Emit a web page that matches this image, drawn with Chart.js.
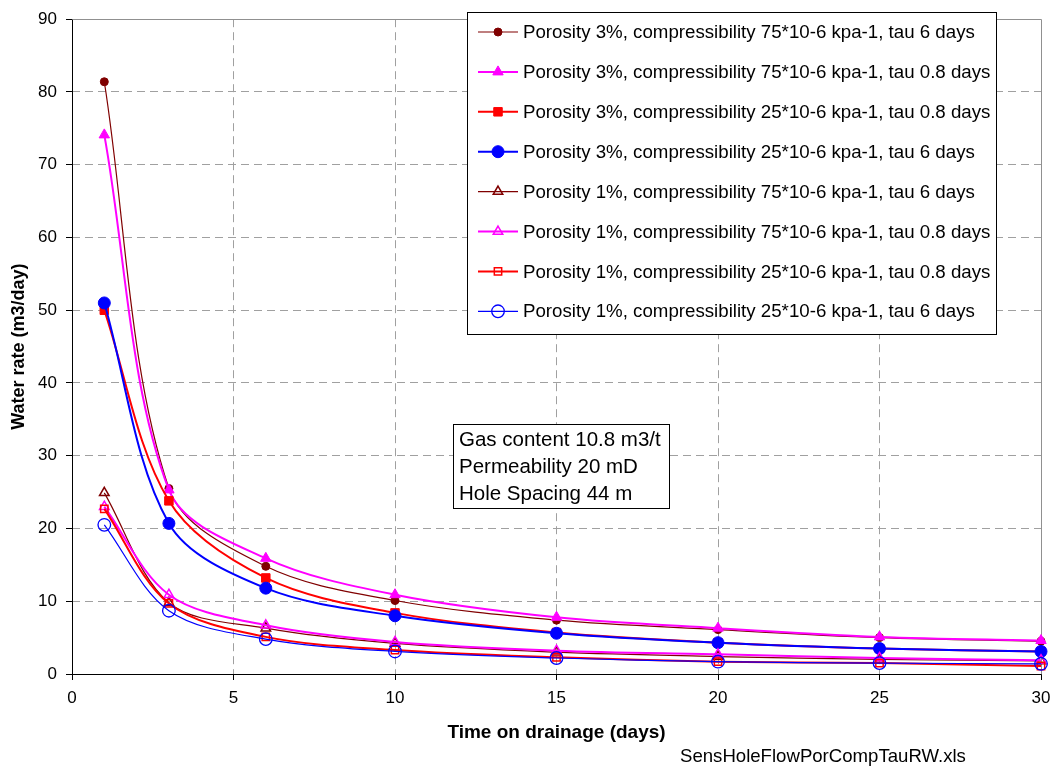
<!DOCTYPE html>
<html>
<head>
<meta charset="utf-8">
<script src="https://cdn.jsdelivr.net/npm/chart.js@4.4.1/dist/chart.umd.min.js"></script>
<style>
  html, body { margin: 0; padding: 0; background: #ffffff; }
  #wrap { width: 1056px; height: 766px; position: relative; }
</style>
</head>
<body>
<div id="wrap"><canvas id="c" width="1056" height="766"></canvas></div>
<script>
// Drainage times (days)
const days = [1, 3, 6, 10, 15, 20, 25, 30];

// Water rate (m3/day) for each porosity / compressibility / tau case
const por3Comp75Tau6  = [81.4, 25.5, 14.8, 10.1, 7.4, 6.1, 5.0, 4.5];
const por3Comp75Tau08 = [74.1, 25.3, 15.9, 10.9, 7.8, 6.3, 5.1, 4.6];
const por3Comp25Tau08 = [50.0, 23.8, 13.2, 8.4, 5.7, 4.3, 3.5, 3.1];
const por3Comp25Tau6  = [51.0, 20.7, 11.8, 8.0, 5.6, 4.3, 3.5, 3.1];
const por1Comp75Tau6  = [24.9, 9.8, 6.3, 4.2, 3.0, 2.4, 2.0, 1.8];
const por1Comp75Tau08 = [23.0, 10.9, 6.7, 4.4, 3.2, 2.7, 2.2, 1.9];
const por1Comp25Tau08 = [22.7, 9.7, 5.1, 3.3, 2.3, 1.7, 1.5, 1.1];
const por1Comp25Tau6  = [20.5, 8.7, 4.8, 3.1, 2.2, 1.7, 1.5, 1.4];

const seriesLabels = [
  'Porosity 3%, compressibility 75*10-6 kpa-1, tau 6 days',
  'Porosity 3%, compressibility 75*10-6 kpa-1, tau 0.8 days',
  'Porosity 3%, compressibility 25*10-6 kpa-1, tau 0.8 days',
  'Porosity 3%, compressibility 25*10-6 kpa-1, tau 6 days',
  'Porosity 1%, compressibility 75*10-6 kpa-1, tau 6 days',
  'Porosity 1%, compressibility 75*10-6 kpa-1, tau 0.8 days',
  'Porosity 1%, compressibility 25*10-6 kpa-1, tau 0.8 days',
  'Porosity 1%, compressibility 25*10-6 kpa-1, tau 6 days'
];

const noteLines = ['Gas content 10.8 m3/t', 'Permeability 20 mD', 'Hole Spacing 44 m'];
const sourceFile = 'SensHoleFlowPorCompTauRW.xls';
const xTitle = 'Time on drainage (days)';
const yTitle = 'Water rate (m3/day)';

const FONT = '"Liberation Sans", Arial, Helvetica, sans-serif';

// Visual style per series
const styles = [
  { color: '#800000', width: 1.2, shape: 'circle',   r: 4,   fill: true,  bw: 1 },
  { color: '#FF00FF', width: 2,   shape: 'triangle', r: 6,   fill: true,  bw: 1 },
  { color: '#FF0000', width: 2,   shape: 'rect',     r: 6,   fill: true,  bw: 1 },
  { color: '#0000FF', width: 2,   shape: 'circle',   r: 6,   fill: true,  bw: 1 },
  { color: '#800000', width: 1.2, shape: 'triangle', r: 5.5, fill: false, bw: 1.5 },
  { color: '#FF00FF', width: 2,   shape: 'triangle', r: 5.5, fill: false, bw: 1.5 },
  { color: '#FF0000', width: 2,   shape: 'rect',     r: 5.2, fill: false, bw: 1.5 },
  { color: '#0000FF', width: 1.2, shape: 'circle',   r: 6.3, fill: false, bw: 1.3 }
];

const seriesValues = [por3Comp75Tau6, por3Comp75Tau08, por3Comp25Tau08, por3Comp25Tau6,
                      por1Comp75Tau6, por1Comp75Tau08, por1Comp25Tau08, por1Comp25Tau6];

const datasets = seriesValues.map((vals, i) => {
  const s = styles[i];
  return {
    label: seriesLabels[i],
    data: days.map((d, k) => ({ x: d, y: vals[k] })),
    showLine: true,
    borderColor: s.color,
    borderWidth: s.width,
    backgroundColor: s.color,
    pointStyle: s.shape,
    pointRadius: s.r,
    pointHoverRadius: s.r,
    pointBackgroundColor: s.fill ? s.color : 'rgba(0,0,0,0)',
    pointBorderColor: s.color,
    pointBorderWidth: s.bw,
    tension: 0.33,
    clip: false,
    order: seriesValues.length - 1 - i
  };
});

const gridGray = '#a0a0a0';

// Solid frame: black axes at left/bottom, gray border at top/right
const framePlugin = {
  id: 'frame',
  beforeDatasetsDraw(chart) {
    const { ctx, chartArea: a } = chart;
    ctx.save();
    ctx.lineWidth = 1;
    ctx.strokeStyle = '#909090';
    ctx.beginPath();
    ctx.moveTo(Math.round(a.left) + 0.5, Math.round(a.top) + 0.5);
    ctx.lineTo(Math.round(a.right) + 0.5, Math.round(a.top) + 0.5);
    ctx.lineTo(Math.round(a.right) + 0.5, Math.round(a.bottom) + 0.5);
    ctx.stroke();
    ctx.strokeStyle = '#000000';
    ctx.beginPath();
    ctx.moveTo(Math.round(a.left) + 0.5, Math.round(a.top) + 0.5);
    ctx.lineTo(Math.round(a.left) + 0.5, Math.round(a.bottom) + 0.5);
    ctx.lineTo(Math.round(a.right) + 0.5, Math.round(a.bottom) + 0.5);
    ctx.stroke();
    ctx.restore();
  }
};

function drawMarker(ctx, s, x, y) {
  const opts = {
    pointStyle: s.shape, radius: s.r, rotation: 0, borderWidth: s.bw
  };
  ctx.save();
  ctx.fillStyle = s.fill ? s.color : 'rgba(0,0,0,0)';
  ctx.strokeStyle = s.color;
  ctx.lineWidth = s.bw;
  Chart.helpers.drawPoint(ctx, opts, x, y);
  ctx.restore();
}

// Boxed legend and notes drawn on top of the plot
const overlayPlugin = {
  id: 'overlay',
  afterDraw(chart) {
    const ctx = chart.ctx;
    ctx.save();
    // legend box
    const lx = 467.5, ly = 12.5, lw = 529, lh = 322;
    ctx.fillStyle = '#ffffff';
    ctx.fillRect(lx, ly, lw, lh);
    ctx.strokeStyle = '#000000';
    ctx.lineWidth = 1;
    ctx.strokeRect(lx, ly, lw, lh);
    ctx.font = '18.7px ' + FONT;
    ctx.textBaseline = 'middle';
    ctx.textAlign = 'left';
    chart.data.datasets.forEach((ds, i) => {
      const s = styles[i];
      const y = 32 + i * 39.9;
      ctx.strokeStyle = s.color;
      ctx.lineWidth = s.width;
      ctx.beginPath();
      ctx.moveTo(478, y);
      ctx.lineTo(518, y);
      ctx.stroke();
      drawMarker(ctx, s, 498, y);
      ctx.fillStyle = '#000000';
      ctx.fillText(ds.label, 523, y + 1);
    });

    // notes box
    ctx.fillStyle = '#ffffff';
    ctx.fillRect(453.5, 424.5, 216, 84);
    ctx.strokeStyle = '#000000';
    ctx.lineWidth = 1;
    ctx.strokeRect(453.5, 424.5, 216, 84);
    ctx.fillStyle = '#000000';
    ctx.font = '20.5px ' + FONT;
    noteLines.forEach((t, i) => ctx.fillText(t, 459, 440 + i * 27));

    // source file name
    ctx.font = '18.6px ' + FONT;
    ctx.fillText(sourceFile, 680, 757);
    ctx.restore();
  }
};

new Chart(document.getElementById('c'), {
  type: 'scatter',
  data: { datasets },
  options: {
    responsive: false,
    animation: false,
    events: [],
    layout: { padding: { top: 13, right: 15, left: 0, bottom: 0 } },
    plugins: {
      legend: { display: false },
      tooltip: { enabled: false }
    },
    scales: {
      x: {
        type: 'linear',
        min: 0,
        max: 30,
        afterFit(scale) {
          scale.height = 92;
          scale.paddingRight = 0;
          scale.paddingLeft = 0;
        },
        ticks: {
          stepSize: 5,
          color: '#000000',
          font: { family: FONT, size: 17 },
          padding: 8,
          maxRotation: 0
        },
        grid: {
          color: (c) => (c.tick && (c.tick.value === 0 || c.tick.value === 30)) ? 'rgba(0,0,0,0)' : gridGray,
          lineWidth: 1,
          tickLength: 6,
          tickColor: '#000000',
          tickWidth: 1,
          tickBorderDash: []
        },
        border: { display: false, dash: [8, 5] },
        title: {
          display: true,
          text: xTitle,
          color: '#000000',
          font: { family: FONT, size: 19, weight: 'bold' },
          padding: { top: 0, bottom: 22 }
        }
      },
      y: {
        type: 'linear',
        min: 0,
        max: 90,
        afterFit(scale) { scale.width = 72; },
        ticks: {
          stepSize: 10,
          color: '#000000',
          font: { family: FONT, size: 17 },
          padding: 9
        },
        grid: {
          color: (c) => (c.tick && (c.tick.value === 0 || c.tick.value === 90)) ? 'rgba(0,0,0,0)' : gridGray,
          lineWidth: 1,
          tickLength: 6,
          tickColor: '#000000',
          tickWidth: 1,
          tickBorderDash: []
        },
        border: { display: false, dash: [8, 5] },
        title: {
          display: true,
          text: yTitle,
          color: '#000000',
          font: { family: FONT, size: 18, weight: 'bold' },
          padding: { top: 8, bottom: 0 }
        }
      }
    }
  },
  plugins: [framePlugin, overlayPlugin]
});
</script>
</body>
</html>
